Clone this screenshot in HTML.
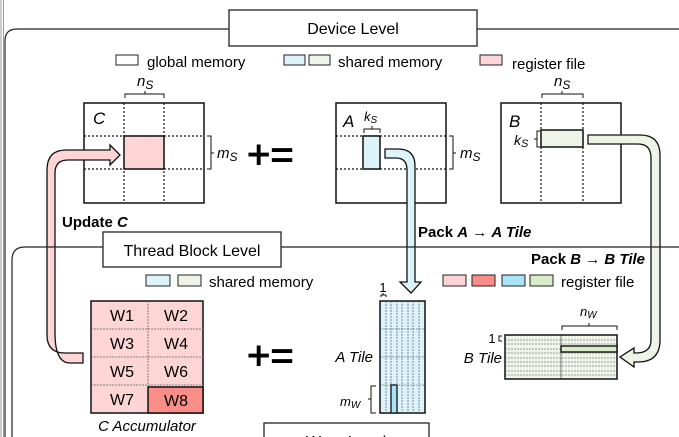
<!DOCTYPE html>
<html><head><style>body{margin:0;background:#fff}svg{display:block}text{font-family:"Liberation Sans",sans-serif}</style></head><body>
<svg width="679" height="437" viewBox="0 0 679 437" xmlns="http://www.w3.org/2000/svg">
<line x1="1" y1="0" x2="1" y2="437" stroke="#999" stroke-width="1"/>
<line x1="3.5" y1="0" x2="3.5" y2="437" stroke="#999" stroke-width="1"/>
<path d="M5,437 V41 Q5,29 17,29 H679" fill="none" stroke="#222" stroke-width="1.2"/>
<rect x="229" y="10" width="248" height="36" fill="#fff" stroke="#222" stroke-width="1.3"/>
<text x="353" y="34" font-size="16" text-anchor="middle">Device Level</text>
<rect x="116" y="55" width="22" height="10" fill="#fff" stroke="#222"/>
<text x="147" y="67" font-size="15">global memory</text>
<rect x="284" y="55" width="21" height="10" fill="#ddf3fa" stroke="#222"/>
<rect x="309" y="55" width="21" height="10" fill="#eef5e8" stroke="#222"/>
<text x="338" y="67" font-size="15">shared memory</text>
<rect x="480" y="55" width="22" height="10" fill="#fdd5d5" stroke="#222"/>
<text x="512" y="69" font-size="15">register file</text>
<rect x="84" y="103" width="120" height="100" fill="#fff" stroke="#111" stroke-width="1.5"/>
<g stroke="#111" stroke-dasharray="2,2" stroke-width="1.2"><line x1="124" y1="103" x2="124" y2="203"/><line x1="164" y1="103" x2="164" y2="203"/><line x1="84" y1="136" x2="204" y2="136"/><line x1="84" y1="169" x2="204" y2="169"/></g>
<rect x="124" y="136" width="40" height="33" fill="#fdd5d5" stroke="#111" stroke-width="1.5"/>
<text x="93" y="124" font-size="17" font-style="italic">C</text>
<path d="M125,98 V94 H164 V98 M145,94 V91" fill="none" stroke="#111"/>
<text x="137" y="86" font-size="15" font-style="italic">n<tspan font-size="12" dy="3">S</tspan></text>
<path d="M207,136 H211 V169 H207 M211,153 H214" fill="none" stroke="#111"/>
<text x="217" y="158" font-size="15" font-style="italic">m<tspan font-size="12" dy="3">S</tspan></text>
<text x="247" y="168" font-size="40" stroke="#000" stroke-width="1">+=</text>
<rect x="336" y="103" width="110" height="100" fill="#fff" stroke="#111" stroke-width="1.5"/>
<g stroke="#111" stroke-dasharray="2,2" stroke-width="1.2"><line x1="336" y1="136" x2="446" y2="136"/><line x1="336" y1="169" x2="446" y2="169"/></g>
<rect x="363" y="136" width="17" height="33" fill="#ddf3fa" stroke="#111" stroke-width="1.5"/>
<text x="343" y="127" font-size="17" font-style="italic">A</text>
<path d="M364,133 V129 H380 V133 M372,129 V126" fill="none" stroke="#111"/>
<text x="364" y="121" font-size="13" font-style="italic">k<tspan font-size="10" dy="2">S</tspan></text>
<path d="M449,136 H453 V169 H449 M453,153 H456" fill="none" stroke="#111"/>
<text x="460" y="158" font-size="15" font-style="italic">m<tspan font-size="12" dy="3">S</tspan></text>
<rect x="501" y="103" width="120" height="100" fill="#fff" stroke="#111" stroke-width="1.5"/>
<g stroke="#111" stroke-dasharray="2,2" stroke-width="1.2"><line x1="541" y1="103" x2="541" y2="203"/><line x1="583" y1="103" x2="583" y2="203"/></g>
<rect x="541" y="130" width="42" height="17" fill="#eef5e8" stroke="#111" stroke-width="1.5"/>
<text x="509" y="127" font-size="17" font-style="italic">B</text>
<path d="M542,98 V94 H583 V98 M562,94 V91" fill="none" stroke="#111"/>
<text x="554" y="86" font-size="15" font-style="italic">n<tspan font-size="12" dy="3">S</tspan></text>
<path d="M540,131 H537 V147 H540 M537,139 H534" fill="none" stroke="#111"/>
<text x="514" y="145" font-size="14" font-style="italic">k<tspan font-size="11" dy="2">S</tspan></text>
<path d="M385,149 H398 Q415,149 415,166 V282 H421 L411,293 L400,282 H407 V170 Q407,158 396,158 H385 Z" fill="#ddf3fa" stroke="#111" stroke-width="1.3"/>
<path d="M588,135 H640 Q660,135 660,155 V340 Q660,362 638,362 H634 V367 L620,357 L634,348 V353 H636 Q651,353 651,340 V158 Q651,144 638,144 H588 Z" fill="#eef5e8" stroke="#111" stroke-width="1.3"/>
<path d="M83,353 H65 Q47,353 47,335 V170 Q47,150 66,150 H110 V145 L120,155 L110,165 V160 H68 Q55,160 55,173 V333 Q55,363 70,363 H83 Z" fill="#fdd5d5" stroke="#111" stroke-width="1.3"/>
<text x="62" y="227" font-size="15" font-weight="bold">Update <tspan font-style="italic">C</tspan></text>
<text x="418" y="237" font-size="15" font-weight="bold">Pack <tspan font-style="italic">A</tspan> → <tspan font-style="italic">A Tile</tspan></text>
<path d="M12,437 V260 Q12,247 25,247 H679" fill="none" stroke="#222" stroke-width="1.2"/>
<rect x="103" y="232" width="178" height="35" fill="#fff" stroke="#222" stroke-width="1.3"/>
<text x="192" y="256" font-size="16" text-anchor="middle">Thread Block Level</text>
<text x="645" y="264" font-size="15" font-weight="bold" text-anchor="end">Pack <tspan font-style="italic">B</tspan> → <tspan font-style="italic">B Tile</tspan></text>
<rect x="146" y="275" width="24" height="11" fill="#ddf3fa" stroke="#222"/>
<rect x="178" y="275" width="23" height="11" fill="#eef5e8" stroke="#222"/>
<text x="209" y="287" font-size="15">shared memory</text>
<rect x="443" y="275" width="23" height="11" fill="#fdd5d5" stroke="#222"/>
<rect x="472" y="275" width="23" height="11" fill="#f98d88" stroke="#222"/>
<rect x="502" y="275" width="23" height="11" fill="#a8e4f8" stroke="#222"/>
<rect x="530" y="275" width="23" height="11" fill="#d8ecc8" stroke="#222"/>
<text x="561" y="287" font-size="15">register file</text>
<rect x="91" y="301" width="112" height="112" fill="#fdd5d5" stroke="#111" stroke-width="1.5"/>
<g stroke="#666" stroke-dasharray="2,1" stroke-width="0.8"><line x1="148" y1="301" x2="148" y2="413"/><line x1="91" y1="329" x2="203" y2="329"/><line x1="91" y1="357" x2="203" y2="357"/><line x1="91" y1="385" x2="203" y2="385"/></g>
<rect x="148" y="387" width="55" height="26" fill="#f98d88" stroke="#111" stroke-width="1.5"/>
<g font-size="16" text-anchor="middle"><text x="122" y="321">W1</text><text x="176" y="321">W2</text><text x="122" y="349">W3</text><text x="176" y="349">W4</text><text x="122" y="377">W5</text><text x="176" y="377">W6</text><text x="122" y="405">W7</text><text x="176" y="406">W8</text></g>
<text x="147" y="431" font-size="15" font-style="italic" text-anchor="middle">C Accumulator</text>
<text x="247" y="369" font-size="40" stroke="#000" stroke-width="1">+=</text>
<rect x="380" y="301" width="45" height="112" fill="#ddf3fa" stroke="#111" stroke-width="1.5"/>
<g stroke="#445" stroke-dasharray="2,1" stroke-width="0.6"><line x1="386" y1="301" x2="386" y2="413"/><line x1="391" y1="301" x2="391" y2="413"/><line x1="397" y1="301" x2="397" y2="413"/><line x1="402" y1="301" x2="402" y2="413"/><line x1="408" y1="301" x2="408" y2="413"/><line x1="413" y1="301" x2="413" y2="413"/><line x1="419" y1="301" x2="419" y2="413"/><line x1="380" y1="329" x2="425" y2="329"/><line x1="380" y1="357" x2="425" y2="357"/><line x1="380" y1="385" x2="425" y2="385"/></g>
<rect x="391" y="385" width="6" height="28" fill="#a8e4f8" stroke="#111" stroke-width="1.3"/>
<path d="M381,297 V295 H386 V297 M383,295 V293" fill="none" stroke="#111"/>
<text x="383" y="292" font-size="13" text-anchor="middle">1</text>
<text x="373" y="362" font-size="15" font-style="italic" text-anchor="end">A Tile</text>
<path d="M376,386 H371 V413 H376 M371,399 H368" fill="none" stroke="#111"/>
<text x="340" y="406" font-size="13" font-style="italic">m<tspan font-size="10" dy="2">W</tspan></text>
<rect x="505" y="335" width="112" height="44" fill="#eef5e8" stroke="#111" stroke-width="1.5"/>
<g stroke="#445" stroke-dasharray="2,1" stroke-width="0.6"><line x1="505" y1="340" x2="617" y2="340"/><line x1="505" y1="344" x2="617" y2="344"/><line x1="505" y1="349" x2="617" y2="349"/><line x1="505" y1="353" x2="617" y2="353"/><line x1="505" y1="358" x2="617" y2="358"/><line x1="505" y1="362" x2="617" y2="362"/><line x1="505" y1="366" x2="617" y2="366"/><line x1="505" y1="371" x2="617" y2="371"/><line x1="505" y1="375" x2="617" y2="375"/><line x1="561" y1="335" x2="561" y2="379" stroke-dasharray="none" stroke="#222"/></g>
<rect x="561" y="346" width="56" height="6" fill="#d8ecc8" stroke="#111" stroke-width="1.4"/>
<text x="492" y="343" font-size="13" text-anchor="middle">1</text>
<path d="M502,336 H499 V341 H502" fill="none" stroke="#111"/>
<text x="502" y="363" font-size="15" font-style="italic" text-anchor="end">B Tile</text>
<path d="M562,330 V326 H617 V330 M589,326 V323" fill="none" stroke="#111"/>
<text x="580" y="316" font-size="13" font-style="italic">n<tspan font-size="10" dy="2">W</tspan></text>
<rect x="264" y="423" width="165" height="30" fill="#fff" stroke="#222" stroke-width="1.3"/>
<text x="346" y="447" font-size="16" text-anchor="middle">Warp Level</text>
</svg>
</body></html>
